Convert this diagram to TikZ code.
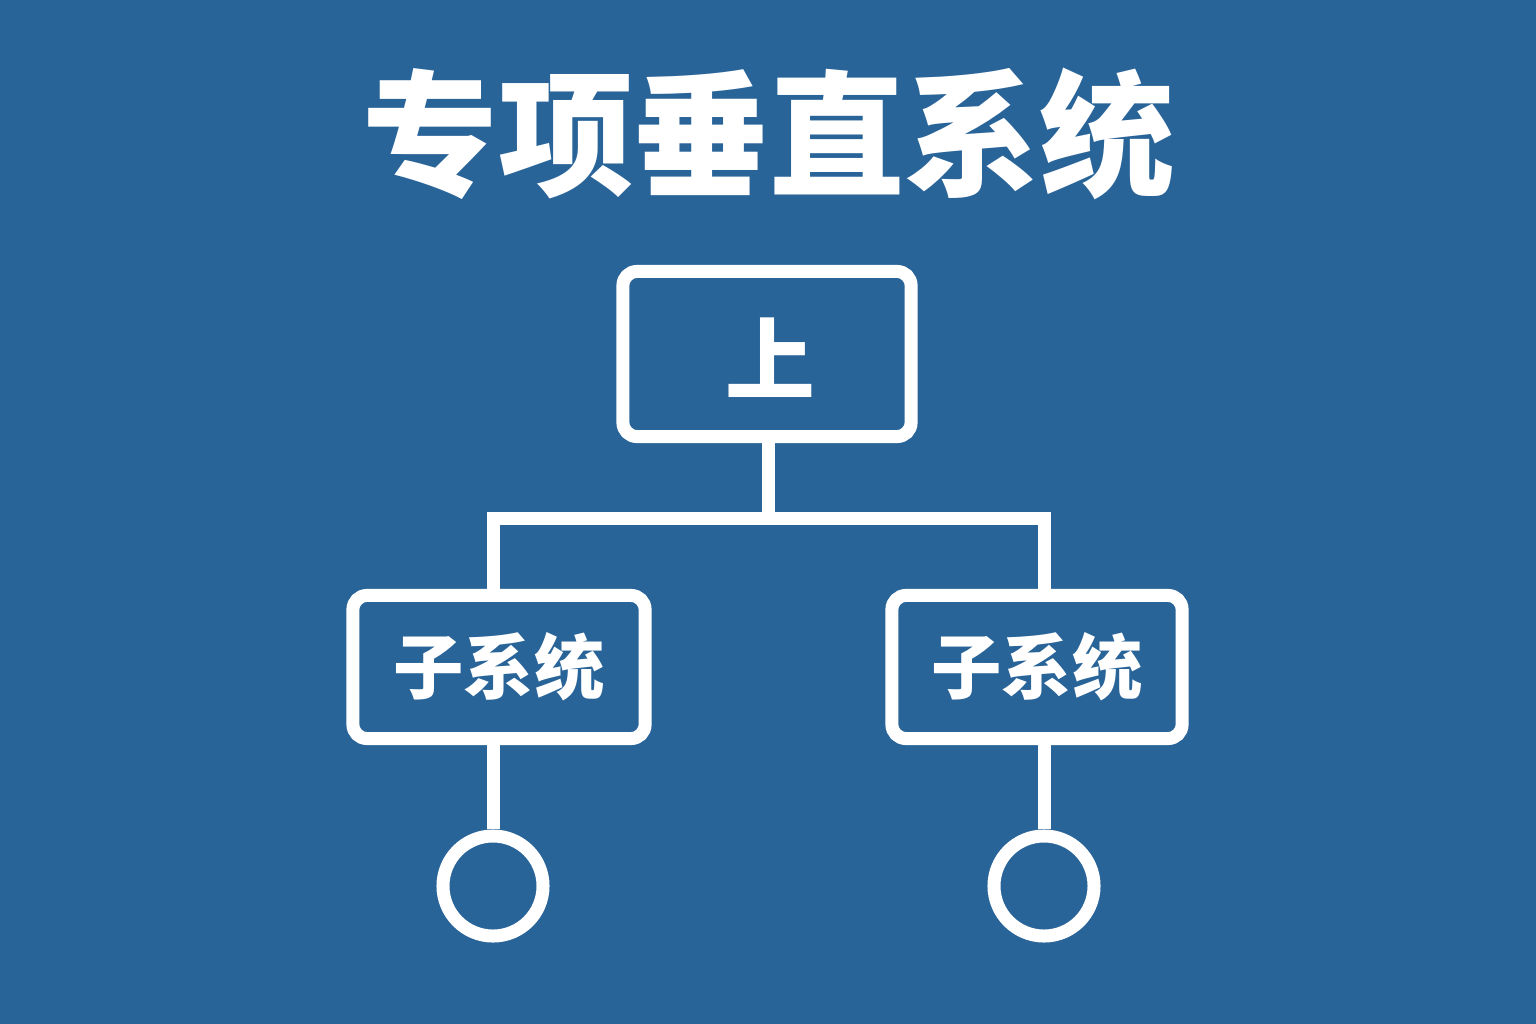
\documentclass[tikz,border=0pt]{standalone}
\usepackage{fontspec}
\usetikzlibrary{positioning}
\newfontfamily\cjk{Noto Sans CJK SC}
\definecolor{mybg}{HTML}{296499}
\newcommand{\TitleTxt}{\fontsize{38.5pt}{38.5pt}\selectfont\cjk\bfseries 专项垂直系统}
\newcommand{\TopTxt}{\fontsize{25.5pt}{25.5pt}\selectfont\cjk\bfseries 上}
\newcommand{\SubTxt}{\fontsize{20pt}{20pt}\selectfont\cjk\bfseries 子系统}

\begin{document}
\begin{tikzpicture}[x=0.01cm,y=-0.01cm,white,line width=0.13cm,
  box/.style={draw, rounded corners=0.14cm, inner sep=0pt},
  leaf/.style={draw, circle, minimum size=1.0cm, inner sep=0pt}]
  \fill[mybg] (0,0) rectangle (1536,1024);
  \useasboundingbox (0,0) rectangle (1536,1024);
  \node (T) at (769,134) {\TitleTxt};
  \node[box, minimum width=2.88cm, minimum height=1.65cm] (U)  at (767,354) {};
  \node (UT) at (770,358) {\TopTxt};
  \node[box, minimum width=2.92cm, minimum height=1.43cm] (S0) at (499,667) {\SubTxt};
  \node[box, minimum width=2.90cm, minimum height=1.43cm] (S1) at (1037,667) {\SubTxt};
  \node[leaf] (L0) at (493,886) {};
  \node[leaf] (L1) at (1044,886) {};
  \coordinate (J)  at (768,518);
  \coordinate (J0) at (493,518);
  \coordinate (J1) at (1044,518);
  \draw (U.south -| J) -- (J);
  \draw[line cap=rect] (J0) -- (J1);
  \draw (J0) -- (J0 |- S0.north);
  \draw (J1) -- (J1 |- S1.north);
  \draw (S0.south -| J0) -- (L0.north);
  \draw (S1.south -| J1) -- (L1.north);
\end{tikzpicture}
\end{document}
